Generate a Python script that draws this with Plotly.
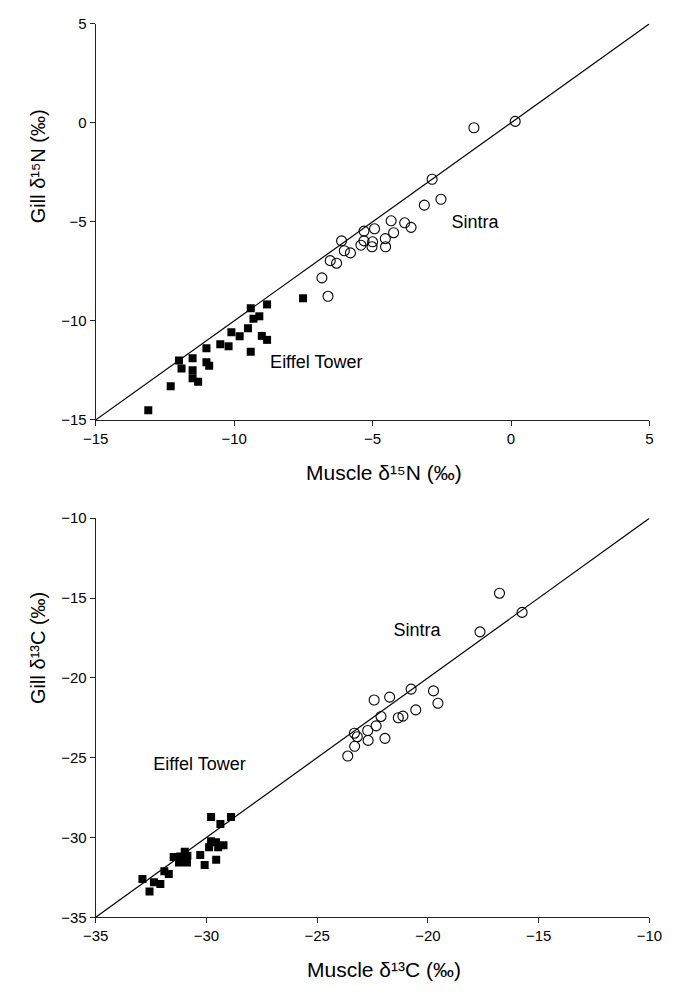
import plotly.graph_objects as go

# ---------------- Top panel: delta 15N ----------------
eiffel_n_muscle = [-13.10, -12.29, -11.99, -11.90, -11.50, -11.50, -11.50, -11.30,
                   -11.00, -10.90, -11.00, -10.50, -10.20, -10.10, -9.80, -9.50,
                   -9.40, -9.40, -9.30, -9.09, -9.00, -8.81, -8.81, -7.51]
eiffel_n_gill = [-14.51, -13.30, -12.00, -12.40, -11.89, -12.50, -12.90, -13.08,
                 -12.09, -12.27, -11.38, -11.18, -11.28, -10.58, -10.78, -10.38,
                 -11.56, -9.37, -9.89, -9.77, -10.76, -10.96, -9.17, -8.86]

sintra_n_muscle = [0.15, -1.34, -2.85, -2.53, -3.13, -4.33, -3.84, -3.61,
                   -4.93, -5.31, -4.24, -4.54, -5.31, -5.00, -6.12, -5.42,
                   -5.02, -4.53, -6.02, -5.80, -6.53, -6.30, -6.83, -6.61]
sintra_n_gill = [0.07, -0.25, -2.85, -3.86, -4.16, -4.95, -5.05, -5.28,
                 -5.35, -5.47, -5.55, -5.85, -5.96, -6.01, -5.96, -6.18,
                 -6.26, -6.26, -6.46, -6.57, -6.96, -7.09, -7.83, -8.76]

line_n = [-15, 5]
ticks_n = [-15, -10, -5, 0, 5]

# ---------------- Bottom panel: delta 13C ----------------
eiffel_c_muscle = [-29.79, -28.89, -29.37, -29.57, -29.47, -29.88, -29.79, -29.23,
                   -30.28, -30.08, -29.56, -30.98, -30.86, -31.18, -31.48, -31.24,
                   -30.88, -31.90, -31.70, -32.89, -32.37, -32.08, -32.57]
eiffel_c_gill = [-28.72, -28.72, -29.15, -30.30, -30.61, -30.61, -30.24, -30.49,
                 -31.10, -31.72, -31.39, -30.89, -31.14, -31.20, -31.23, -31.57,
                 -31.57, -32.12, -32.29, -32.60, -32.80, -32.92, -33.38]

sintra_c_muscle = [-15.75, -16.77, -17.65, -20.76, -19.75, -19.55, -22.43, -21.73,
                   -20.55, -21.13, -21.34, -22.12, -22.34, -22.72, -21.94, -23.32,
                   -23.19, -22.70, -23.31, -23.62]
sintra_c_gill = [-15.90, -14.70, -17.12, -20.71, -20.82, -21.59, -21.39, -21.21,
                 -22.01, -22.40, -22.50, -22.42, -23.01, -23.30, -23.79, -23.47,
                 -23.69, -23.92, -24.29, -24.90]

line_c = [-35, -10]
ticks_c = [-35, -30, -25, -20, -15, -10]

# site labels placed in data coordinates
labels_n = ["Sintra", "Eiffel Tower"]
labels_n_x = [-2.15, -8.7]
labels_n_y = [-5.07, -12.14]
labels_c = ["Sintra", "Eiffel Tower"]
labels_c_x = [-21.55, -32.4]
labels_c_y = [-17.10, -25.5]

# axis titles (Unicode superscripts)
xtitle_n = "Muscle δ¹⁵N (‰)"
ytitle_n = "Gill δ¹⁵N (‰)"
xtitle_c = "Muscle δ¹³C (‰)"
ytitle_c = "Gill δ¹³C (‰)"

FONT = "Liberation Sans, Arial, DejaVu Sans, sans-serif"

fig = go.Figure()

# 1:1 lines
fig.add_trace(go.Scatter(x=line_n, y=line_n, mode="lines",
                         line=dict(color="black", width=1.2),
                         xaxis="x", yaxis="y", showlegend=False, hoverinfo="skip"))
fig.add_trace(go.Scatter(x=line_c, y=line_c, mode="lines",
                         line=dict(color="black", width=1.2),
                         xaxis="x2", yaxis="y2", showlegend=False, hoverinfo="skip"))

sq = dict(symbol="square", size=8, color="black", line=dict(width=0))
circ = dict(symbol="circle-open", size=10, color="black", line=dict(width=1.1, color="black"))

fig.add_trace(go.Scatter(x=eiffel_n_muscle, y=eiffel_n_gill, mode="markers", marker=sq,
                         xaxis="x", yaxis="y", name="Eiffel Tower", showlegend=False))
fig.add_trace(go.Scatter(x=sintra_n_muscle, y=sintra_n_gill, mode="markers", marker=circ,
                         xaxis="x", yaxis="y", name="Sintra", showlegend=False))
fig.add_trace(go.Scatter(x=eiffel_c_muscle, y=eiffel_c_gill, mode="markers", marker=sq,
                         xaxis="x2", yaxis="y2", name="Eiffel Tower", showlegend=False))
fig.add_trace(go.Scatter(x=sintra_c_muscle, y=sintra_c_gill, mode="markers", marker=circ,
                         xaxis="x2", yaxis="y2", name="Sintra", showlegend=False))

LAB = dict(family=FONT, size=18, color="black")
fig.add_trace(go.Scatter(x=labels_n_x, y=labels_n_y, mode="text", text=labels_n,
                         textposition="middle right", textfont=LAB, cliponaxis=False,
                         xaxis="x", yaxis="y", showlegend=False, hoverinfo="skip"))
fig.add_trace(go.Scatter(x=labels_c_x, y=labels_c_y, mode="text", text=labels_c,
                         textposition="middle right", textfont=LAB, cliponaxis=False,
                         xaxis="x2", yaxis="y2", showlegend=False, hoverinfo="skip"))

W, H = 674, 999
xdom = [86 / W, 662 / W]
ydom_top = [1 - 418 / H, 1 - 15 / H]
ydom_bot = [1 - 924 / H, 1 - 518 / H]

axis_common = dict(showline=True, linecolor="#222", linewidth=1.2, ticks="outside",
                   ticklen=5, tickcolor="#222", tickwidth=1, showgrid=False,
                   zeroline=False, mirror=False,
                   tickfont=dict(family=FONT, size=15, color="black"))

fig.update_layout(
    width=W, height=H, margin=dict(l=0, r=0, t=0, b=0),
    paper_bgcolor="white", plot_bgcolor="white",
    font=dict(family=FONT, size=15, color="black"),
    xaxis=dict(domain=xdom, range=line_n, tickvals=ticks_n, anchor="y", **axis_common),
    yaxis=dict(domain=ydom_top, range=line_n, tickvals=ticks_n, anchor="x", **axis_common),
    xaxis2=dict(domain=xdom, range=line_c, tickvals=ticks_c, anchor="y2", **axis_common),
    yaxis2=dict(domain=ydom_bot, range=line_c, tickvals=ticks_c, anchor="x2", **axis_common),
)

XT = dict(family=FONT, size=21, color="black")
YT = dict(family=FONT, size=20, color="black")
ann = []
ann.append(dict(x=386 / W, y=1 - 472 / H, xref="paper", yref="paper",
                text=xtitle_n, showarrow=False,
                xanchor="center", yanchor="middle", font=XT))
ann.append(dict(x=386 / W, y=1 - 977 / H, xref="paper", yref="paper",
                text=xtitle_c, showarrow=False,
                xanchor="center", yanchor="middle", font=XT))
ann.append(dict(x=26 / W, y=1 - 160 / H, xref="paper", yref="paper",
                text=ytitle_n, showarrow=False, textangle=-90,
                xanchor="center", yanchor="middle", font=YT))
ann.append(dict(x=26 / W, y=1 - 650 / H, xref="paper", yref="paper",
                text=ytitle_c, showarrow=False, textangle=-90,
                xanchor="center", yanchor="middle", font=YT))
fig.update_layout(annotations=ann)

fig.write_html("out.html")
